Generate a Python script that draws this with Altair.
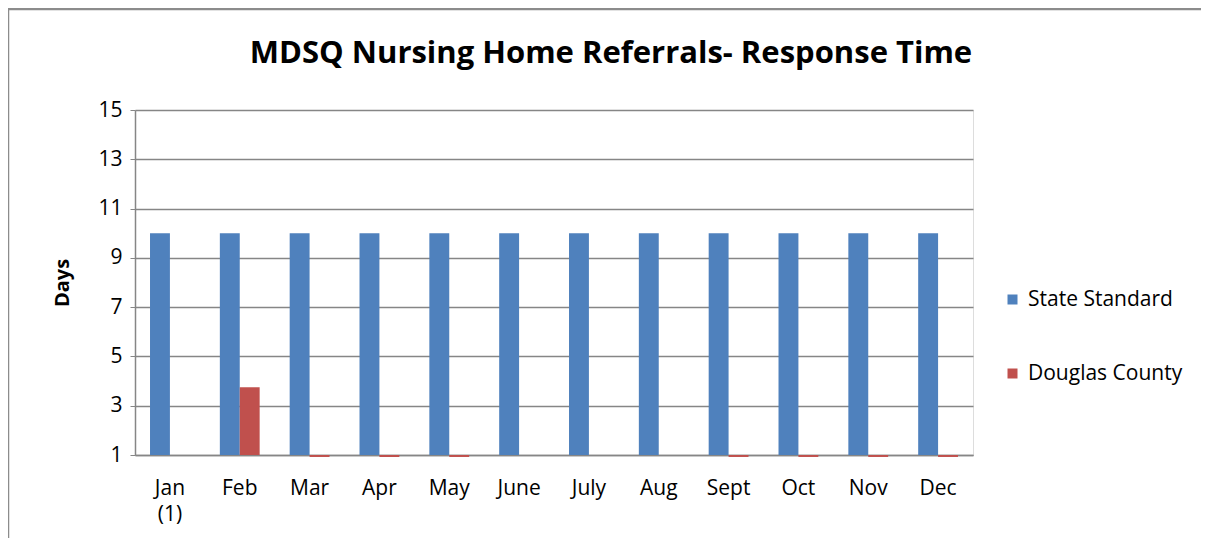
import altair as alt
import pandas as pd

months = ["Jan|(1)", "Feb", "Mar", "Apr", "May", "June", "July", "Aug", "Sept", "Oct", "Nov", "Dec"]
state_standard = [10, 10, 10, 10, 10, 10, 10, 10, 10, 10, 10, 10]
douglas_county = [None, 3.75, 0.92, 0.92, 0.92, None, None, None, 0.92, 0.92, 0.92, 0.92]
series = ["State Standard", "Douglas County"]
colors = ["#4F81BD", "#C0504D"]
y_ticks = [1, 3, 5, 7, 9, 11, 13, 15]

rows = []
for m, s, d in zip(months, state_standard, douglas_county):
    rows.append({"month": m, "series": series[0], "value": s})
    rows.append({"month": m, "series": series[1], "value": d})
df = pd.DataFrame(rows)

FONT = "Open Sans"
W, H = 838, 345

bars = alt.Chart(df).mark_bar().encode(
    x=alt.X("month:N", sort=months,
            scale=alt.Scale(paddingInner=0.43, paddingOuter=0.215),
            axis=alt.Axis(title=None, labelAngle=0, ticks=False, labelPadding=22,
                          labelFontSize=21, labelColor="#000000", labelFont=FONT,
                          domainColor="#868686", domainWidth=1.5, labelLineHeight=26,
                          labelExpr="split(datum.label, '|')")),
    xOffset=alt.XOffset("series:N", sort=series),
    y=alt.Y("value:Q", scale=alt.Scale(domain=[1, 15], zero=False, nice=False),
            axis=alt.Axis(values=y_ticks, title="Days", titleFontSize=20, titleFont=FONT,
                          titleFontWeight="bold", titleColor="#000000", titlePadding=25,
                          labelFontSize=21, labelFont=FONT, labelColor="#000000",
                          labelPadding=8, tickSize=5, tickColor="#868686",
                          domainColor="#868686", domainWidth=1.5,
                          gridColor="#868686", gridWidth=1.3)),
    y2=alt.Y2(datum=1),
    color=alt.Color("series:N", sort=series,
                    scale=alt.Scale(domain=series, range=colors),
                    legend=alt.Legend(title=None, orient="none", legendX=867, legendY=179,
                                      symbolType="square", symbolSize=100,
                                      symbolStrokeWidth=0, labelFontSize=21,
                                      labelFont=FONT, labelColor="#000000",
                                      rowPadding=52, labelOffset=5)),
)

frame = alt.Chart(pd.DataFrame({"a": [0]})).mark_rect(
    fill=None, stroke="#8c8c8c", strokeWidth=2.5
).encode(
    x=alt.value(-127), x2=alt.value(1400),
    y=alt.value(-101), y2=alt.value(800),
)

chart = alt.layer(frame, bars).properties(
    width=W, height=H,
    title=alt.TitleParams("MDSQ Nursing Home Referrals- Response Time",
                          fontSize=31, font=FONT, fontWeight="bold", color="#000000",
                          anchor="middle", dx=57, offset=-86, baseline="alphabetic"),
    padding={"left": 127, "top": 102, "right": 228, "bottom": 83},
    autosize=alt.AutoSizeParams(type="none"),
).configure_view(stroke=None).configure(background="#ffffff")

chart.save("out.html", embed_options={"renderer": "svg", "actions": False})
